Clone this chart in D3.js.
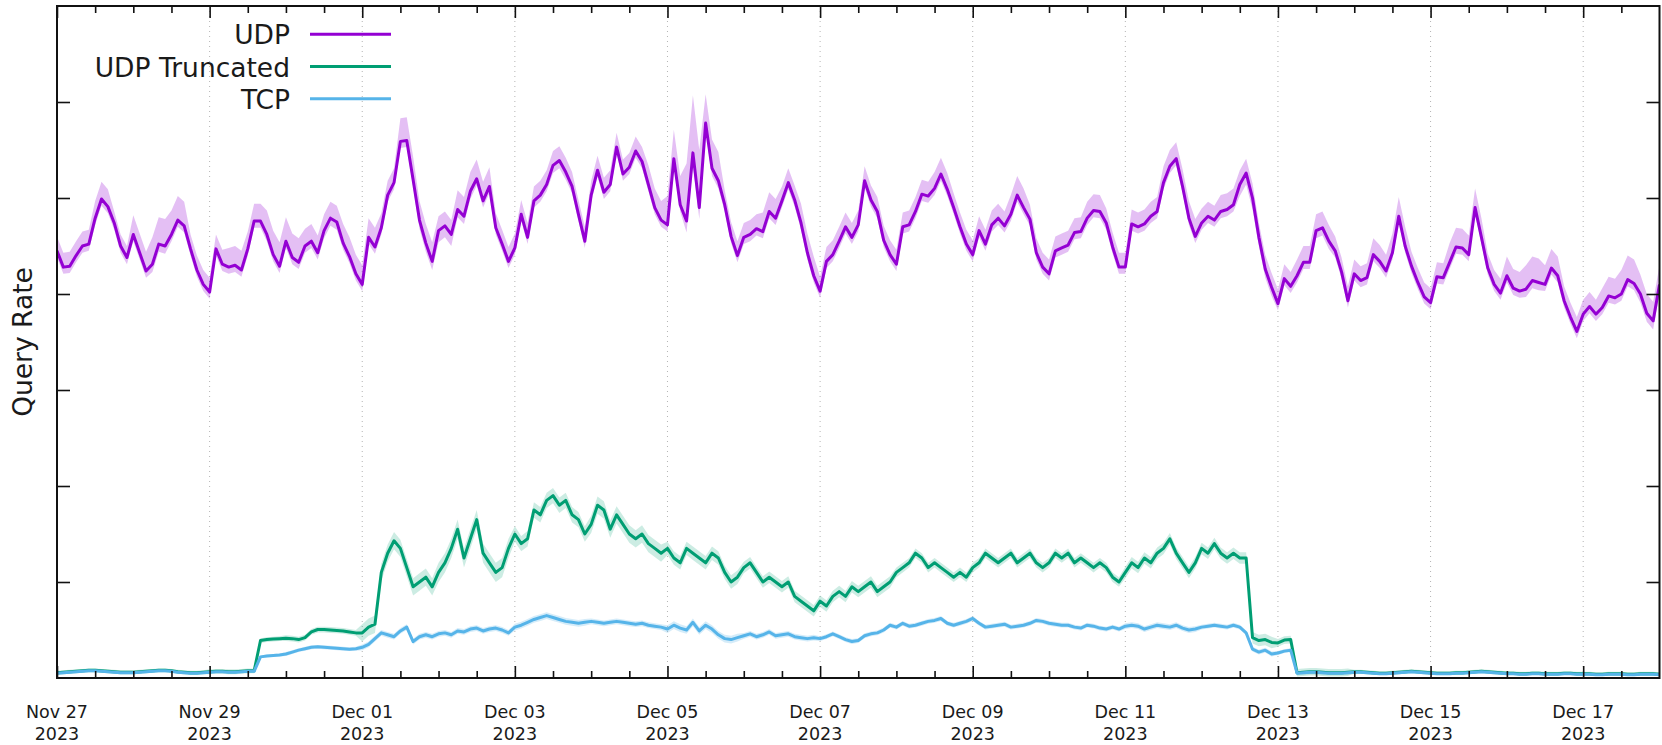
<!DOCTYPE html>
<html>
<head>
<meta charset="utf-8">
<script src="https://cdn.jsdelivr.net/npm/d3@7"></script>
<style>
  html, body { margin: 0; padding: 0; background: #ffffff; }
  svg { display: block; }
  text { font-family: "DejaVu Sans", sans-serif; fill: #1a1a1a; }
</style>
</head>
<body>
<svg id="chart" width="1662" height="745"></svg>
<script>
// ---- data -------------------------------------------------------------
const startDate = "2023-11-27T00:00:00Z";
const endDate = "2023-12-18T00:00:00Z";
const stepHours = 2;                // one sample every two hours
const seriesNames = ["UDP", "UDP Truncated", "TCP"];
const yTickValues = [1000, 2000, 3000, 4000, 5000, 6000];
const tickDates = ["2023-11-27", "2023-11-29", "2023-12-01", "2023-12-03", "2023-12-05",
                   "2023-12-07", "2023-12-09", "2023-12-11", "2023-12-13", "2023-12-15", "2023-12-17"];
const tickLabels = [["Nov 27", "2023"], ["Nov 29", "2023"], ["Dec 01", "2023"], ["Dec 03", "2023"],
                    ["Dec 05", "2023"], ["Dec 07", "2023"], ["Dec 09", "2023"], ["Dec 11", "2023"],
                    ["Dec 13", "2023"], ["Dec 15", "2023"], ["Dec 17", "2023"]];

const udp = [
  4450, 4280, 4290, 4400, 4500, 4520, 4790, 4990, 4910, 4740, 4500, 4380, 4620, 4430, 4240, 4310,
  4520, 4500, 4620, 4770, 4710, 4470, 4250, 4100, 4020, 4470, 4310, 4280, 4300, 4250, 4470, 4760,
  4760, 4620, 4410, 4290, 4550, 4380, 4330, 4500, 4550, 4430, 4660,
  4790, 4750, 4530, 4390, 4210, 4100, 4590, 4490, 4690, 5030, 5160, 5590, 5600, 5190, 4770, 4530,
  4340, 4660, 4710, 4620, 4880, 4810, 5070, 5200, 4970, 5120, 4690, 4520, 4340, 4480, 4830, 4590,
  4970, 5030, 5140, 5340, 5390, 5270, 5120, 4830, 4550, 5030, 5290,
  5060, 5140, 5530, 5250, 5320, 5490, 5380, 5140, 4900, 4770, 4720, 5410, 4930, 4760, 5470, 4900,
  5780, 5310, 5180, 4930, 4600, 4400, 4590, 4620, 4680, 4650, 4860, 4790, 4970, 5160, 4980, 4740,
  4430, 4190, 4030, 4340, 4410, 4550, 4700, 4590, 4720, 5180,
  4980, 4860, 4560, 4410, 4310, 4700, 4720, 4860, 5040, 5020, 5100, 5250, 5090, 4900, 4700, 4520,
  4410, 4660, 4520, 4720, 4790, 4710, 4830, 5030, 4900, 4780, 4430, 4280, 4210, 4450, 4480, 4510,
  4640, 4650, 4790, 4870, 4860, 4740, 4490, 4280, 4280, 4730, 4700,
  4730, 4810, 4860, 5160, 5330, 5410, 5120, 4790, 4600, 4740, 4810, 4770, 4860, 4880, 4930, 5140,
  5260, 5000, 4590, 4260, 4070, 3900, 4160, 4080, 4190, 4330, 4330, 4660, 4690, 4550, 4450, 4230,
  3930, 4210, 4140, 4170, 4410, 4340, 4240, 4430, 4810, 4500,
  4290, 4120, 3970, 3910, 4180, 4170, 4330, 4490, 4480, 4410, 4900, 4590, 4270, 4100, 4010, 4190,
  4060, 4030, 4050, 4140, 4120, 4100, 4270, 4190, 3930, 3760, 3610, 3790, 3870, 3790, 3860, 3980,
  3960, 4000, 4150, 4110, 4000, 3800, 3720, 4100
];
// spread of the UDP min/max band, one value per six hours
const udpBandUp = [
  150, 150, 180, 120, 200, 280, 250, 150, 150, 200, 180, 250, 250, 180, 170, 200,
  200, 150, 240, 200, 150, 200, 200, 150, 150, 150, 150, 150, 150, 150, 150, 200,
  300, 600, 300, 150, 150, 200, 150, 200, 150, 150, 150, 150, 150, 150, 170, 150,
  150, 150, 200, 150, 150, 150, 170, 150, 150, 150, 170, 180, 150, 170, 150, 150,
  150, 170, 170, 150, 150, 170, 200, 150, 150, 200, 200, 150, 200, 250, 200, 150,
  150, 200, 250, 200
];
const udpBandDown = [
  70, 70, 70, 70, 70, 80, 70, 70, 70, 70, 70, 70, 70, 70, 80, 70,
  70, 70, 70, 90, 120, 80, 70, 70, 70, 70, 80, 70, 70, 70, 70, 70,
  70, 120, 80, 70, 70, 70, 70, 70, 70, 70, 70, 70, 70, 70, 70, 70,
  70, 70, 70, 70, 70, 70, 70, 70, 70, 70, 70, 70, 70, 70, 120, 90,
  70, 70, 80, 70, 70, 70, 70, 70, 70, 70, 70, 70, 70, 80, 70, 70,
  70, 70, 70, 90
];

const truncated = [
  55, 60, 65, 70, 75, 80, 80, 75, 70, 65, 60, 60, 60, 65, 70, 75,
  80, 80, 75, 65, 60, 55, 55, 60, 65, 70, 70, 65, 65, 70, 75, 75,
  390, 400, 405, 410, 415, 410, 400, 420, 480, 505, 505, 500, 495, 490, 480, 470,
  470, 530, 560,
  1100, 1300, 1430, 1350, 1150, 950, 1000, 1050, 950, 1100, 1200, 1350, 1550, 1250, 1450, 1650,
  1300, 1200, 1100, 1150, 1350, 1500, 1400, 1450, 1750, 1700, 1850, 1900, 1800, 1850, 1700, 1650,
  1500, 1600, 1800, 1750, 1550, 1700, 1600, 1500, 1450, 1500, 1400, 1350, 1300, 1350, 1250, 1200,
  1350, 1300, 1250, 1200, 1300, 1250, 1100, 1000, 1050, 1150, 1200, 1100, 1000, 1050, 1000, 950,
  1000, 850, 800, 750, 700, 800, 750, 850, 900, 850, 950, 900, 950, 1000, 900, 950,
  1000, 1100, 1150, 1200, 1300, 1250, 1150, 1200, 1150, 1100, 1050, 1100, 1050, 1150, 1200, 1300,
  1250, 1200, 1250, 1300, 1200, 1250, 1300, 1200, 1150, 1200, 1300, 1250, 1300, 1200, 1250, 1200,
  1150, 1200, 1150, 1050, 1000, 1100, 1200, 1150, 1250, 1200, 1300, 1350, 1450, 1300, 1200, 1100,
  1200, 1350, 1300, 1400, 1300, 1250, 1300, 1250, 1250,
  420, 390, 400, 370, 365, 395, 400,
  55, 60, 65, 65, 60, 55, 55, 55, 60, 65, 65, 60, 55, 50, 50, 55,
  60, 65, 70, 65, 60, 55, 50, 50, 50, 55, 55, 60, 65, 70, 65, 60,
  55, 50, 50, 45, 45, 50, 50, 45, 45, 45, 50, 50, 45, 45, 45, 40,
  40, 45, 45, 45, 40, 40, 45, 45, 45, 40
];
// half-width of the truncated band, one value per day
const truncatedSpread = [20, 20, 25, 30, 90, 100, 80, 90, 70, 60, 60, 50, 50, 50, 60, 60, 40, 20, 20, 20, 20];

const tcp = [
  50, 55, 60, 65, 70, 75, 75, 70, 65, 60, 55, 55, 55, 60, 65, 70,
  75, 75, 70, 60, 55, 50, 50, 55, 60, 65, 65, 60, 60, 65, 70, 70,
  220, 230, 235, 240, 250, 270, 290, 305, 320, 325, 320, 315, 310, 305, 300, 305,
  320, 350, 410, 470, 450, 430, 490, 530, 380, 430, 450, 430, 460, 470, 450, 490,
  480, 510, 520, 490, 510, 520, 500, 470, 530, 550, 580, 610, 630, 650, 630, 610,
  590, 580, 570, 580, 590, 580, 570, 580, 590, 580, 570, 560, 570, 550, 540, 530,
  510, 550, 520, 500, 580, 490, 550, 510, 450, 410, 400, 420, 440, 460, 430, 450,
  480, 440, 450, 460, 430, 420, 410, 420, 410, 430, 460, 430, 400, 380, 390, 440,
  460, 470, 500, 550, 530, 570, 540, 550, 570, 590, 600, 620, 570, 550, 570, 590,
  620, 570, 530, 540, 550, 560, 530, 540, 550, 570, 600, 590, 570, 560, 550, 550,
  530, 520, 550, 540, 520, 510, 530, 510, 540, 550, 540, 510, 530, 550, 540, 530,
  550, 520, 500, 510, 530, 540, 550, 540, 530, 550, 530, 470, 300, 270, 290, 250,
  260, 280, 290,
  50, 55, 60, 60, 55, 50, 50, 50, 55, 60, 60, 55, 50, 45, 45, 50,
  55, 60, 65, 60, 55, 50, 45, 45, 45, 50, 50, 55, 60, 65, 60, 55,
  50, 45, 45, 40, 40, 45, 45, 40, 40, 40, 45, 45, 40, 40, 40, 35,
  35, 40, 40, 40, 35, 35, 40, 40, 40, 35
];
// half-width of the TCP band, one value per day
const tcpSpread = [15, 15, 15, 20, 30, 30, 35, 30, 40, 30, 25, 25, 25, 25, 30, 25, 20, 15, 15, 15, 15];

const seriesColors = ["#9400d3", "#009e73", "#56b4e9"];

// ---- layout -----------------------------------------------------------
const plotBox = { left: 57, right: 1659.5, top: 6, bottom: 678 };

const svg = d3.select("#chart");
const t0 = new Date(startDate);
const t1 = new Date(endDate);
const timeAt = i => new Date(+t0 + i * stepHours * 3600e3);

const x = d3.scaleUtc().domain([t0, t1]).range([plotBox.left, plotBox.right]);
const y = d3.scaleLinear().domain([0, 7000]).range([plotBox.bottom, plotBox.top]);

const majorTicks = tickDates.map(d => new Date(d + "T00:00:00Z"));
const majorSet = new Set(majorTicks.map(d => +d));
const minorTicks = d3.utcHour.every(12).range(t0, t1).filter(d => !majorSet.has(+d));

svg.append("defs").append("clipPath").attr("id", "plot-clip")
  .append("rect")
  .attr("x", plotBox.left).attr("y", plotBox.top)
  .attr("width", plotBox.right - plotBox.left)
  .attr("height", plotBox.bottom - plotBox.top);

// vertical dotted grid at the labelled dates
svg.append("g").attr("class", "grid")
  .selectAll("line")
  .data(majorTicks.filter(d => +d > +t0))
  .join("line")
  .attr("x1", d => x(d)).attr("x2", d => x(d))
  .attr("y1", plotBox.top).attr("y2", plotBox.bottom)
  .attr("stroke", "#b4b4b4")
  .attr("stroke-width", 1)
  .attr("stroke-dasharray", "1,4");

// ---- series -----------------------------------------------------------
const blockOf = (i, perBlock, arr) => arr[Math.min(arr.length - 1, Math.floor(i / perBlock))];
const series = [
  {
    values: udp, color: seriesColors[0], bandOpacity: 0.25,
    lo: i => udp[i] - blockOf(i, 3, udpBandDown),
    hi: i => udp[i] + blockOf(i, 3, udpBandUp)
  },
  {
    values: truncated, color: seriesColors[1], bandOpacity: 0.2,
    lo: i => truncated[i] - blockOf(i, 12, truncatedSpread),
    hi: i => truncated[i] + blockOf(i, 12, truncatedSpread)
  },
  {
    values: tcp, color: seriesColors[2], bandOpacity: 0.25,
    lo: i => Math.max(0, tcp[i] - blockOf(i, 12, tcpSpread)),
    hi: i => tcp[i] + blockOf(i, 12, tcpSpread)
  }
];

const plot = svg.append("g").attr("clip-path", "url(#plot-clip)");
series.forEach(s => {
  const idx = d3.range(s.values.length);
  plot.append("path")
    .datum(idx)
    .attr("fill", s.color)
    .attr("fill-opacity", s.bandOpacity)
    .attr("stroke", "none")
    .attr("d", d3.area()
      .x(i => x(timeAt(i)))
      .y0(i => y(s.lo(i)))
      .y1(i => y(s.hi(i))));
});
series.forEach(s => {
  const idx = d3.range(s.values.length);
  plot.append("path")
    .datum(idx)
    .attr("fill", "none")
    .attr("stroke", s.color)
    .attr("stroke-width", 3)
    .attr("stroke-linejoin", "round")
    .attr("d", d3.line()
      .x(i => x(timeAt(i)))
      .y(i => y(s.values[i])));
});

// ---- axes -------------------------------------------------------------
function styleTicks(g) {
  g.select(".domain").remove();
  g.selectAll(".tick line").attr("stroke", "#111").attr("stroke-width", 1.6);
  g.selectAll(".tick text").remove();
}
// bottom
svg.append("g").attr("transform", `translate(0,${plotBox.bottom})`)
  .call(d3.axisBottom(x).tickValues(majorTicks).tickSizeInner(-12).tickSizeOuter(0))
  .call(styleTicks);
svg.append("g").attr("transform", `translate(0,${plotBox.bottom})`)
  .call(d3.axisBottom(x).tickValues(minorTicks).tickSizeInner(-7).tickSizeOuter(0))
  .call(styleTicks);
// top
svg.append("g").attr("transform", `translate(0,${plotBox.top})`)
  .call(d3.axisTop(x).tickValues(majorTicks).tickSizeInner(-12).tickSizeOuter(0))
  .call(styleTicks);
svg.append("g").attr("transform", `translate(0,${plotBox.top})`)
  .call(d3.axisTop(x).tickValues(minorTicks).tickSizeInner(-7).tickSizeOuter(0))
  .call(styleTicks);
// left / right
svg.append("g").attr("transform", `translate(${plotBox.left},0)`)
  .call(d3.axisLeft(y).tickValues(yTickValues).tickSizeInner(-13).tickSizeOuter(0))
  .call(styleTicks);
svg.append("g").attr("transform", `translate(${plotBox.right},0)`)
  .call(d3.axisRight(y).tickValues(yTickValues).tickSizeInner(-13).tickSizeOuter(0))
  .call(styleTicks);

// date labels, two lines each
const labels = svg.append("g").attr("class", "x-labels");
majorTicks.forEach((d, i) => {
  const t = labels.append("text")
    .attr("x", x(d))
    .attr("text-anchor", "middle")
    .style("font-size", "17.5px");
  t.append("tspan").attr("x", x(d)).attr("y", 718).text(tickLabels[i][0]);
  t.append("tspan").attr("x", x(d)).attr("y", 740).text(tickLabels[i][1]);
});

// frame
svg.append("rect")
  .attr("x", plotBox.left).attr("y", plotBox.top)
  .attr("width", plotBox.right - plotBox.left)
  .attr("height", plotBox.bottom - plotBox.top)
  .attr("fill", "none").attr("stroke", "#111").attr("stroke-width", 2);

// y-axis title
svg.append("text")
  .attr("transform", `translate(32,${(plotBox.top + plotBox.bottom) / 2}) rotate(-90)`)
  .attr("text-anchor", "middle")
  .style("font-size", "26.5px")
  .text("Query Rate");

// ---- legend -----------------------------------------------------------
const legend = svg.append("g").attr("class", "legend");
seriesNames.forEach((name, i) => {
  const ly = 34.3 + i * 32.2;
  legend.append("text")
    .attr("x", 290).attr("y", ly + 10)
    .attr("text-anchor", "end")
    .style("font-size", "26.5px")
    .text(name);
  legend.append("line")
    .attr("x1", 310).attr("x2", 391)
    .attr("y1", ly).attr("y2", ly)
    .attr("stroke", seriesColors[i])
    .attr("stroke-width", 3);
});
</script>
</body>
</html>
